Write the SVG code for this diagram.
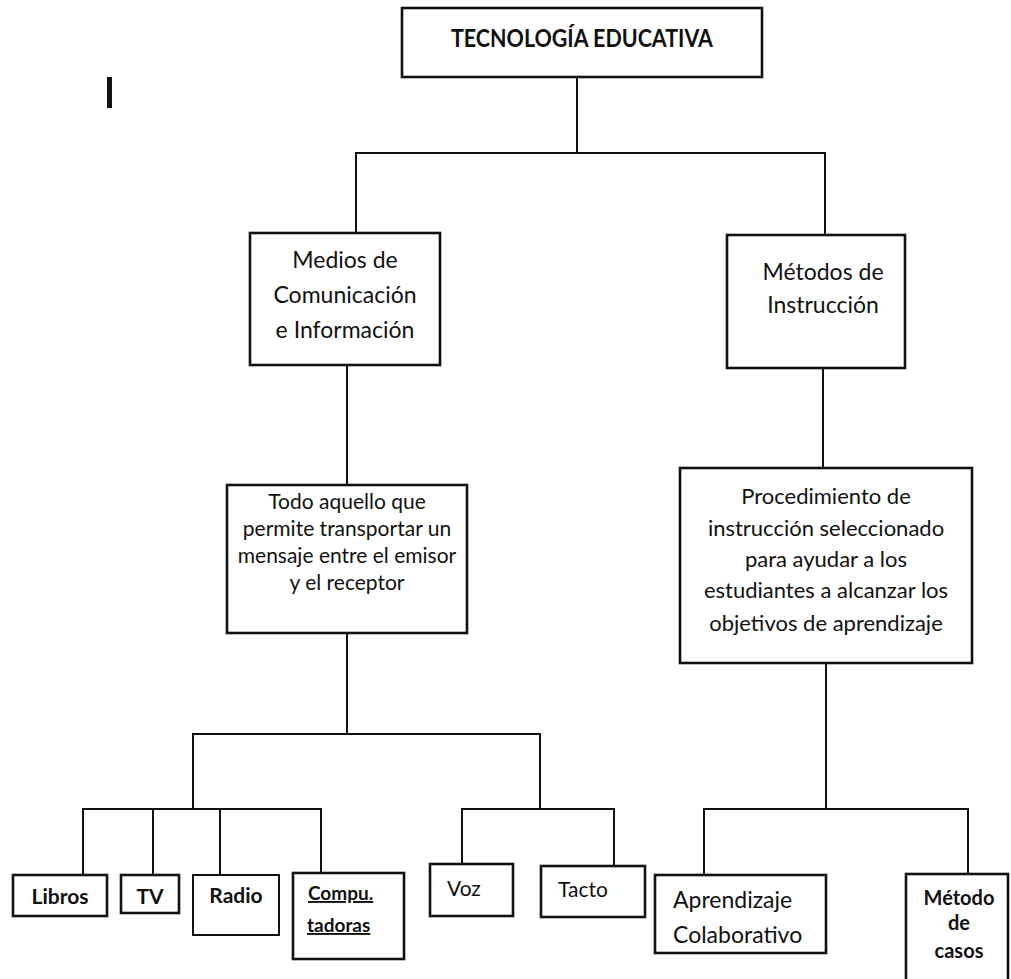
<svg xmlns="http://www.w3.org/2000/svg" width="1011" height="979" viewBox="0 0 1011 979">
  <style>
    .box { fill: #ffffff; stroke: #111111; stroke-width: 2.6; }
    .thin { fill: #ffffff; stroke: #111111; stroke-width: 2; }
    .wire { fill: none; stroke: #111111; stroke-width: 2; stroke-linecap: square; }
    text { font-family: "Lato", "Open Sans", "Liberation Sans", sans-serif; fill: #111111; }
    .title { font-size: 24px; font-weight: bold; text-anchor: middle; }
    .mid { font-size: 23px; text-anchor: middle; }
    .desc { font-size: 21px; text-anchor: middle; }
    .proc { font-size: 22px; text-anchor: middle; }
    .leaf { font-size: 21px; font-weight: bold; text-anchor: middle; }
    .leafl { font-size: 21px; }
    .big { font-size: 23px; }
    .casos { font-size: 20px; font-weight: bold; text-anchor: middle; }
    .under { font-size: 19px; font-weight: bold; text-decoration: underline; }
  </style>
  <rect width="1011" height="979" fill="#ffffff"/>

  <!-- stray mark at the top left -->
  <rect x="107" y="77" width="5" height="31" fill="#111111"/>

  <g id="connectors">
    <path class="wire" d="M577,77 V153 M356,153 H825 M356,153 V233 M825,153 V235"/>
    <path class="wire" d="M347,365 V485 M347,633 V734 M193,734 H540"/>
    <path class="wire" d="M193,734 V809 M83,809 H321 M83,809 V875 M153,809 V875 M220,809 V875 M321,809 V873"/>
    <path class="wire" d="M540,734 V809 M462,809 H614 M462,809 V864 M614,809 V866"/>
    <path class="wire" d="M823,368 V468 M826,663 V809 M704,809 H968 M704,809 V875 M968,809 V874"/>
  </g>

  <g id="tecnologia">
    <rect class="box" x="402" y="8" width="360" height="69"/>
    <text class="title" x="582" y="47" textLength="262" lengthAdjust="spacingAndGlyphs">TECNOLOGÍA EDUCATIVA</text>
  </g>

  <g id="medios">
    <rect class="box" x="250" y="233" width="190" height="132"/>
    <text class="mid" x="345" y="268">Medios de</text>
    <text class="mid" x="345" y="303">Comunicación</text>
    <text class="mid" x="345" y="338">e Información</text>
  </g>

  <g id="metodos">
    <rect class="box" x="727" y="235" width="178" height="133"/>
    <text class="mid" x="823" y="280">Métodos de</text>
    <text class="mid" x="823" y="313">Instrucción</text>
  </g>

  <g id="todo">
    <rect class="box" x="227" y="485" width="240" height="148"/>
    <text class="desc" x="347" y="509">Todo aquello que</text>
    <text class="desc" x="347" y="536">permite transportar un</text>
    <text class="desc" x="347" y="563">mensaje entre el emisor</text>
    <text class="desc" x="347" y="590">y el receptor</text>
  </g>

  <g id="procedimiento">
    <rect class="box" x="680" y="468" width="292" height="195"/>
    <text class="proc" x="826" y="504">Procedimiento de</text>
    <text class="proc" x="826" y="536">instrucción seleccionado</text>
    <text class="proc" x="826" y="567">para ayudar a los</text>
    <text class="proc" x="826" y="598">estudiantes a alcanzar los</text>
    <text class="proc" x="826" y="631">objetivos de aprendizaje</text>
  </g>

  <g id="libros">
    <rect class="box" x="13" y="875" width="94" height="41"/>
    <text class="leaf" x="60" y="904">Libros</text>
  </g>
  <g id="tv">
    <rect class="box" x="121" y="875" width="58" height="38"/>
    <text class="leaf" x="150" y="904">TV</text>
  </g>
  <g id="radio">
    <rect class="thin" x="193" y="875" width="86" height="60"/>
    <text class="leaf" x="236" y="903">Radio</text>
  </g>
  <g id="computadoras">
    <rect class="box" x="293" y="873" width="111" height="86"/>
    <text class="under" x="308" y="900">Compu.</text>
    <text class="under" x="307" y="932">tadoras</text>
  </g>
  <g id="voz">
    <rect class="box" x="430" y="864" width="83" height="52"/>
    <text class="leafl" x="447" y="896">Voz</text>
  </g>
  <g id="tacto">
    <rect class="box" x="541" y="866" width="104" height="51"/>
    <text class="leafl" x="558" y="897">Tacto</text>
  </g>
  <g id="aprendizaje">
    <rect class="box" x="655" y="875" width="171" height="78"/>
    <text class="big" x="673" y="908">Aprendizaje</text>
    <text class="big" x="673" y="943">Colaborativo</text>
  </g>
  <g id="metodo-casos">
    <rect class="box" x="906" y="874" width="102" height="115"/>
    <text class="casos" x="959" y="905">Método</text>
    <text class="casos" x="959" y="930">de</text>
    <text class="casos" x="959" y="958">casos</text>
  </g>
</svg>
